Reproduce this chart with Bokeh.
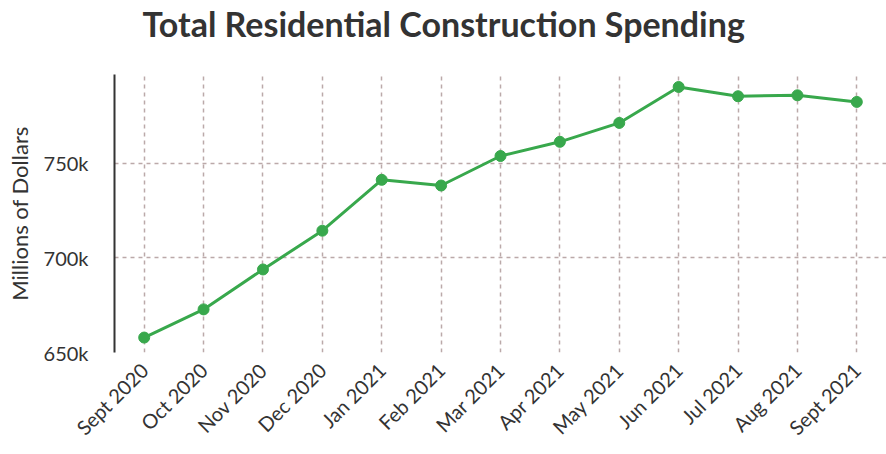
import math
from bokeh.plotting import figure
from bokeh.models import Range1d, FixedTicker, FactorRange, Title
from bokeh.embed import file_html
from bokeh.resources import INLINE

title_text = "Total Residential Construction Spending"
months = ["Sept 2020", "Oct 2020", "Nov 2020", "Dec 2020", "Jan 2021", "Feb 2021",
          "Mar 2021", "Apr 2021", "May 2021", "Jun 2021", "Jul 2021", "Aug 2021", "Sept 2021"]
spending = [657900, 672800, 693900, 714400, 741300, 738300, 753900,
            761400, 771400, 790400, 785500, 786000, 782500]
y_ticks = [650000, 700000, 750000]
y_tick_labels = ["650k", "700k", "750k"]

GREEN = "#38a84c"
FONT = "Lato"

p = figure(width=886, height=454, x_range=FactorRange(factors=months),
           y_range=Range1d(650000, 797000), output_backend="svg",
           toolbar_location=None, title_location=None,
           min_border_left=114, min_border_right=0, min_border_bottom=102,
           min_border_top=73)

# spacer panel between frame and title, then the title itself
p.add_layout(Title(text=" ", text_font_size="1px", standoff=28), "above")
p.add_layout(Title(text=title_text, align="left", offset=28, standoff=0,
                   text_font=FONT, text_font_size="34px", text_font_style="bold",
                   text_color="#333333"), "above")

p.line(months, spending, line_color=GREEN, line_width=3)
p.scatter(months, spending, size=11, fill_color=GREEN, line_color=GREEN)

p.outline_line_color = None
p.background_fill_color = "white"

for g in (p.xgrid, p.ygrid):
    g.grid_line_color = "#bba9a9"
    g.grid_line_dash = "4 4"
    g.grid_line_width = 1.5

p.yaxis.ticker = FixedTicker(ticks=y_ticks)
p.yaxis.major_label_overrides = {t: l for t, l in zip(y_ticks, y_tick_labels)}
p.yaxis.axis_line_color = "#333333"
p.yaxis.axis_line_width = 2
p.yaxis.major_tick_line_color = None
p.yaxis.minor_tick_line_color = None
p.yaxis.major_label_standoff = 20
p.yaxis.major_label_text_font = FONT
p.yaxis.major_label_text_font_size = "20px"
p.yaxis.major_label_text_color = "#333333"
p.yaxis.axis_label = "Millions of Dollars"
p.yaxis.axis_label_text_font = FONT
p.yaxis.axis_label_text_font_size = "22px"
p.yaxis.axis_label_text_font_style = "normal"
p.yaxis.axis_label_text_color = "#333333"
p.yaxis.axis_label_standoff = 8

p.xaxis.axis_line_color = None
p.xaxis.major_tick_line_color = None
p.xaxis.minor_tick_line_color = None
p.xaxis.major_label_orientation = math.pi / 4
p.xaxis.major_label_standoff = 8
p.xaxis.major_label_text_font = FONT
p.xaxis.major_label_text_font_size = "20px"
p.xaxis.major_label_text_color = "#333333"

open("out.html", "w").write(file_html(p, INLINE))
